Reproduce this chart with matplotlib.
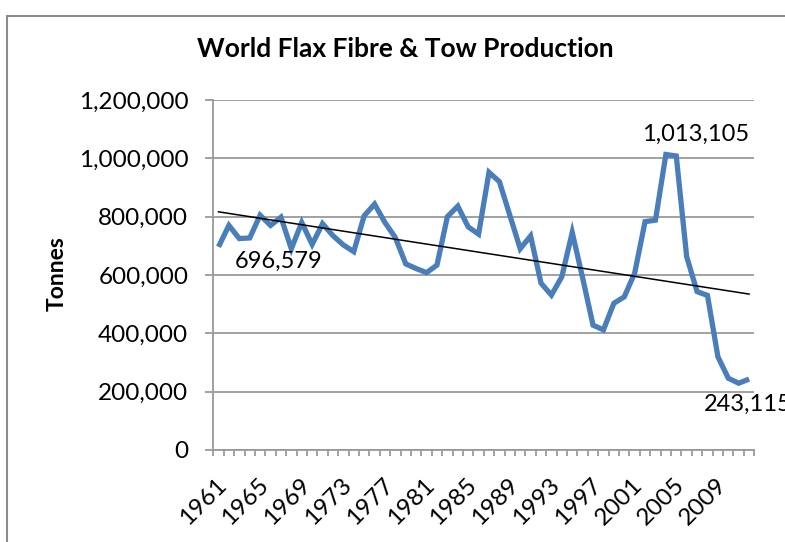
import numpy as np
import matplotlib
matplotlib.use("Agg")
import matplotlib.pyplot as plt
from matplotlib.patches import Rectangle
from matplotlib.ticker import FuncFormatter, FixedLocator
import matplotlib.transforms as mtransforms

plt.rcParams['font.family'] = ['Lato', 'DejaVu Sans']

# World flax fibre & tow production, tonnes per year
years = list(range(1961, 2013))
production = [
    696579, 770000, 725000, 727000, 805000, 770000, 798000, 690000, 780000, 705000,
    776000, 735000, 703000, 680000, 803000, 843000, 780000, 728000, 638000, 622000,
    608000, 634000, 800000, 836000, 765000, 740000, 952000, 920000, 805000, 690000,
    734000, 572000, 531000, 594000, 746000, 590000, 428000, 412000, 503000, 525000,
    606000, 783000, 788000, 1013105, 1008000, 663000, 543000, 530000, 320000, 246000,
    229000, 243115,
]
label_years = [1961, 2004, 2012]
y_ticks = [0, 200000, 400000, 600000, 800000, 1000000, 1200000]

W, H = 785, 542
fig = plt.figure(figsize=(W / 100, H / 100), dpi=100)
fig.patch.set_facecolor('white')

# chart frame
fig.patches.append(Rectangle((7 / W, -0.1), 1.2, 1 - 16 / H + 0.1,
                             transform=fig.transFigure, fill=False,
                             edgecolor='#8c8c8c', linewidth=1.5))

ax = fig.add_axes([213.3 / W, 1 - 450 / H, 541 / W, 350 / H])
x = np.arange(len(years))
grid_col = '#9a9a9a'

ax.set_xlim(-0.5, len(years) - 0.5)
ax.set_ylim(0, 1200000)
ax.set_yticks(y_ticks)
ax.yaxis.set_major_formatter(FuncFormatter(lambda v, p: f"{int(v):,}"))
ax.grid(axis='y', color=grid_col, linewidth=1.3)
ax.set_axisbelow(True)

for s in ['top', 'right']:
    ax.spines[s].set_visible(False)
for s in ['left', 'bottom']:
    ax.spines[s].set_color(grid_col)
    ax.spines[s].set_linewidth(1.3)

ax.tick_params(axis='y', length=5.5, width=1.3, color=grid_col, labelsize=17.5, pad=12.5)

# category labels every fourth year, tick marks between categories
tick_idx = list(range(0, len(years), 4))
ax.set_xticks(tick_idx)
ax.set_xticklabels([str(years[i]) for i in tick_idx])
ax.xaxis.set_minor_locator(FixedLocator(np.arange(-0.5, len(years), 1.0)))
ax.tick_params(axis='x', which='major', length=0, labelsize=17.5, pad=23)
ax.tick_params(axis='x', which='minor', length=4.5, width=1.3, color=grid_col)
offset = mtransforms.ScaledTranslation(5 / 100, 0, fig.dpi_scale_trans)
for lab in ax.get_xticklabels():
    lab.set_rotation(45)
    lab.set_rotation_mode('anchor')
    lab.set_ha('right')
    lab.set_va('center')
    lab.set_transform(lab.get_transform() + offset)

# production series
ax.plot(x, production, color='#4a7ebb', linewidth=3.8, solid_joinstyle='miter',
        solid_capstyle='butt', zorder=3)

# linear trend
coef = np.polyfit(x, production, 1)
ax.plot(x, np.polyval(coef, x), color='black', linewidth=1.1, zorder=4)

# value labels
offsets = {1961: (60, -15, 'center'), 2004: (30, 20, 'center'), 2012: (-45, -25, 'left')}
for yr in label_years:
    i = years.index(yr)
    dx, dy, ha = offsets[yr]
    ax.annotate(f"{production[i]:,}", xy=(i, production[i]), xytext=(dx, dy),
                textcoords='offset pixels', ha=ha, va='center', fontsize=17,
                annotation_clip=False, clip_on=False)

ax.set_ylabel('Tonnes', fontsize=16.5, fontweight='bold')
ax.yaxis.set_label_coords(68 / W, 1 - 274 / H, transform=fig.transFigure)

fig.text(405 / W, 1 - 57 / H, 'World Flax Fibre & Tow Production', ha='center',
         va='baseline', fontsize=19, fontweight='bold')

fig.savefig('out.png', dpi=100)
